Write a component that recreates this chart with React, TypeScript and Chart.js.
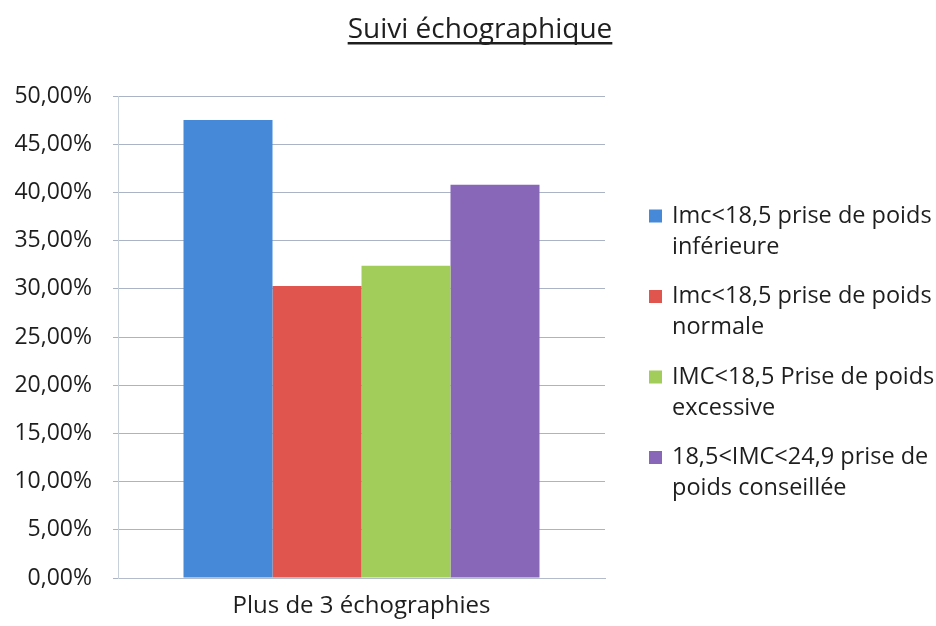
import React, { useEffect, useRef } from "react";
import { Chart, registerables } from "chart.js";

Chart.register(...registerables);

const title = "Suivi échographique";
const categories = ["Plus de 3 échographies"];
const seriesNames = [
  ["Imc<18,5 prise de poids", "inférieure"],
  ["Imc<18,5 prise de poids", "normale"],
  ["IMC<18,5 Prise de poids", "excessive"],
  ["18,5<IMC<24,9 prise de", "poids conseillée"],
];
const seriesValues = [[47.5], [30.3], [32.4], [40.8]];
const seriesColors = ["#4589d8", "#e0564e", "#a3cd5a", "#8866b8"];
const yTickLabels = [
  "0,00%", "5,00%", "10,00%", "15,00%", "20,00%", "25,00%",
  "30,00%", "35,00%", "40,00%", "45,00%", "50,00%",
];

const FONT = "'Open Sans', 'Noto Sans', sans-serif";
const TEXT = "#1e1e1e";

export default function App() {
  const ref = useRef<HTMLCanvasElement | null>(null);
  useEffect(() => {
    if (!ref.current) return;
    const overlay = {
      id: "overlay",
      afterDraw(chart: any) {
        const ctx = chart.ctx;
        ctx.save();
        // title
        ctx.fillStyle = TEXT;
        ctx.font = `28px ${FONT}`;
        ctx.textAlign = "center";
        ctx.textBaseline = "alphabetic";
        const tx = 480;
        const ty = 38;
        ctx.fillText(title, tx, ty);
        const w = ctx.measureText(title).width;
        ctx.fillRect(tx - w / 2, ty + 4, w, 2.5);
        // legend
        ctx.textAlign = "left";
        ctx.textBaseline = "middle";
        ctx.font = `23.5px ${FONT}`;
        chart.data.datasets.forEach((ds: any, i: number) => {
          const y0 = 216 + i * 80.5;
          ctx.fillStyle = ds.backgroundColor;
          ctx.fillRect(649, y0 - 6.5, 13, 13);
          ctx.fillStyle = TEXT;
          (ds.legendLines as string[]).forEach((line, j) => {
            ctx.fillText(line, 672, y0 + j * 31);
          });
        });
        ctx.restore();
      },
    };
    const chart = new Chart(ref.current, {
      type: "bar",
      data: {
        labels: categories,
        datasets: seriesNames.map((n, i) => ({
          label: n.join(" "),
          legendLines: n,
          data: seriesValues[i],
          backgroundColor: seriesColors[i],
          borderWidth: 0,
          barPercentage: 1,
          categoryPercentage: 0.731,
        })) as any,
      },
      options: {
        animation: false,
        responsive: true,
        maintainAspectRatio: false,
        layout: { padding: { left: 0, right: 331, top: 96, bottom: 0 } },
        plugins: {
          legend: { display: false },
          title: { display: false },
          tooltip: { enabled: false },
        },
        scales: {
          x: {
            grid: { display: false, drawTicks: false },
            border: { display: true, color: "#b4bccb" },
            ticks: {
              color: TEXT,
              font: { family: FONT, size: 24 },
              padding: 14,
            },
            afterFit(scale: any) {
              scale.height = 48;
            },
          },
          y: {
            min: 0,
            max: 50,
            ticks: {
              stepSize: 5,
              color: TEXT,
              font: { family: FONT, size: 23 },
              padding: 21,
              callback: (_v: any, idx: number) => yTickLabels[idx],
            },
            grid: { color: "#aab4c4", tickLength: 5 },
            border: { display: true, color: "#c8d0dc" },
            afterFit(scale: any) {
              scale.width = 118;
            },
          },
        },
      },
      plugins: [overlay],
    });
    return () => chart.destroy();
  }, []);
  return (
    <div style={{ position: "fixed", left: 0, top: 0, width: 936, height: 626, background: "#fff" }}>
      <canvas ref={ref} />
    </div>
  );
}
